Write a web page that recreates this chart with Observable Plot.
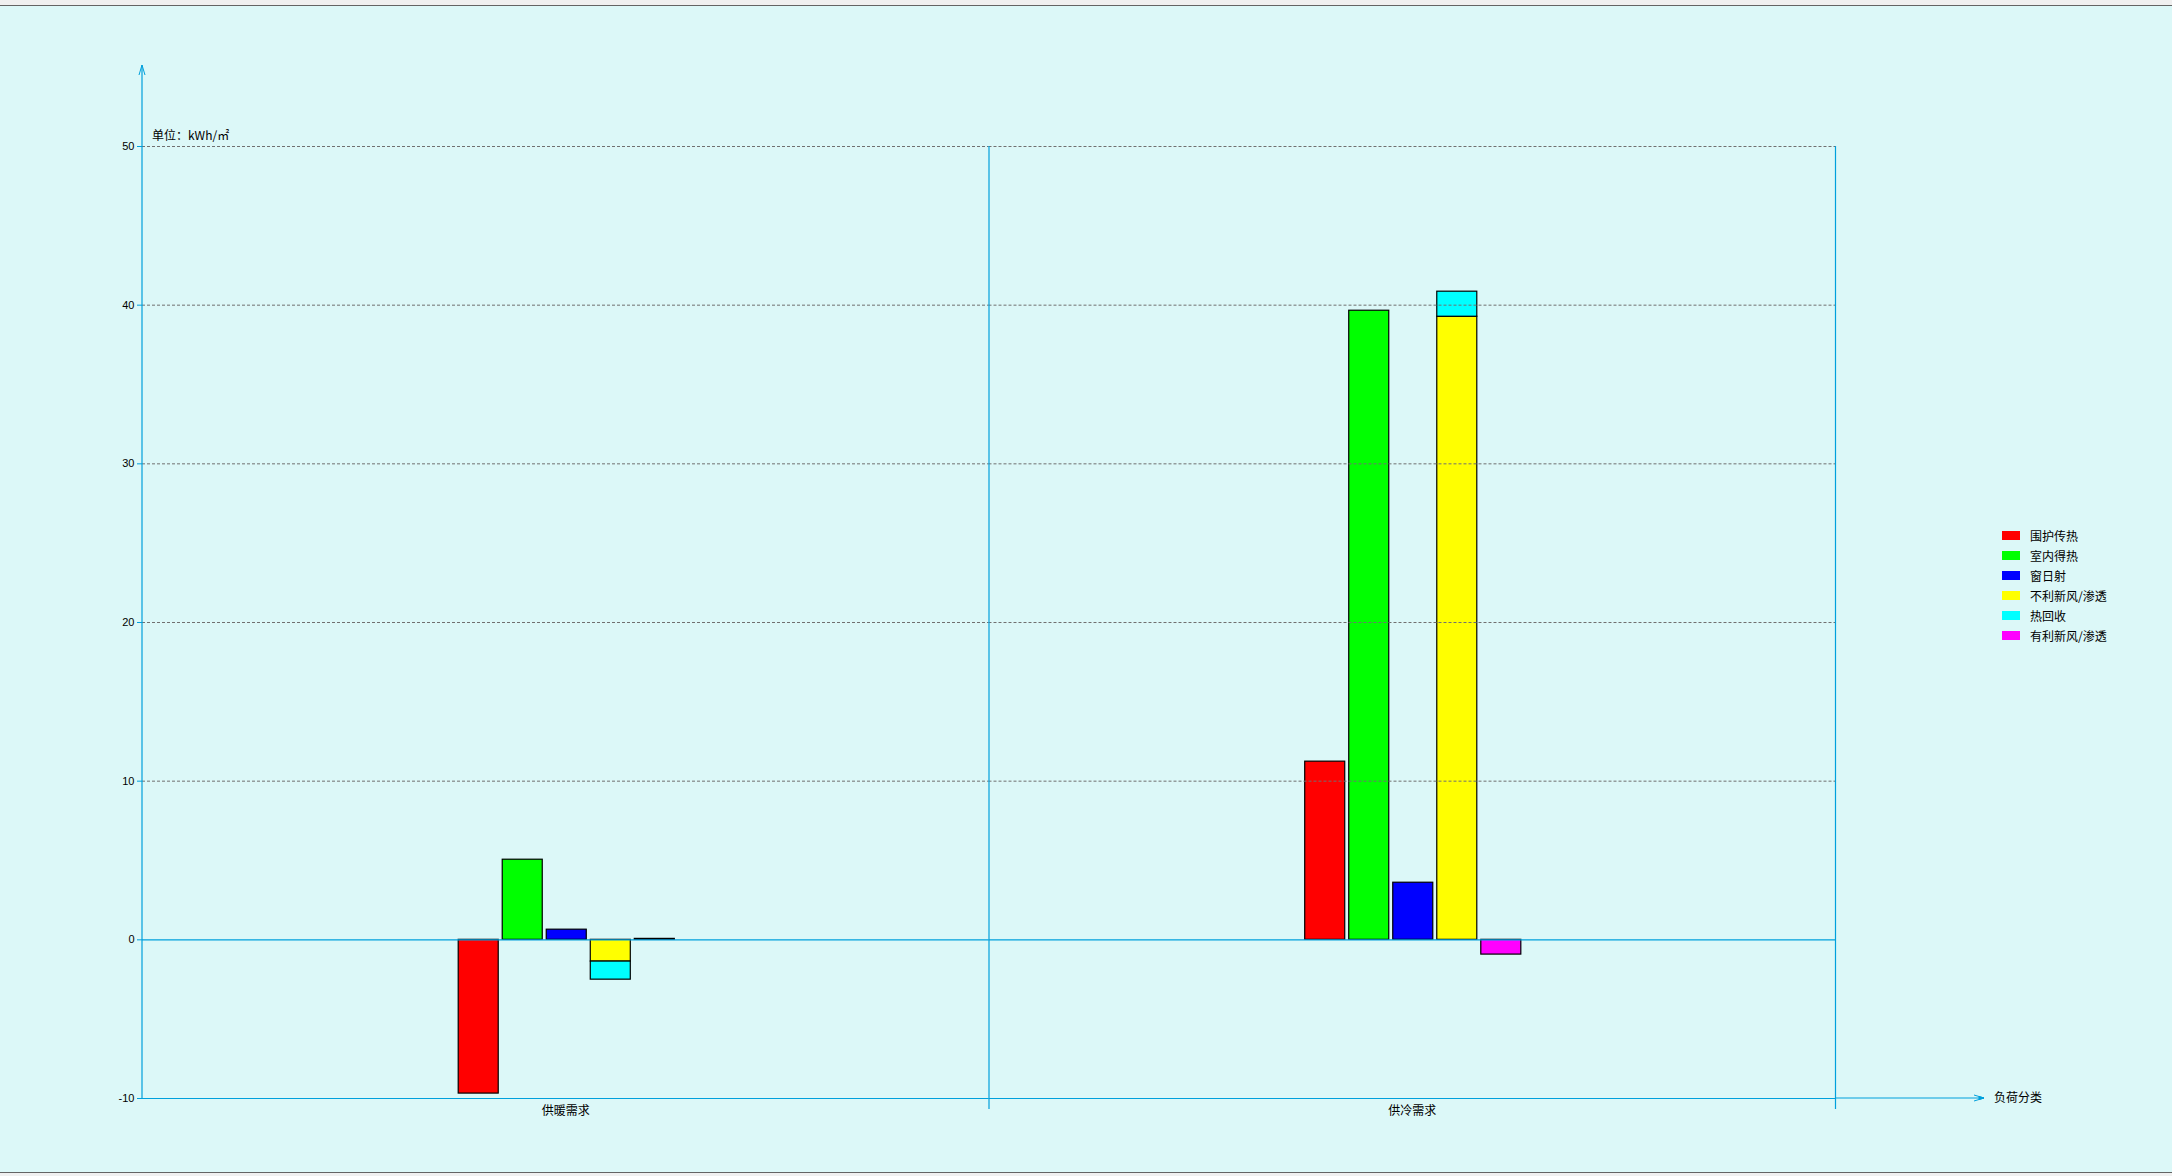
<!DOCTYPE html>
<html>
<head>
<meta charset="utf-8">
<script src="https://cdn.jsdelivr.net/npm/d3@7"></script>
<script src="https://cdn.jsdelivr.net/npm/@observablehq/plot@0.6"></script>
<style>
  html, body { margin: 0; padding: 0; background: #f0f0f0; }
  #wrap { position: relative; width: 2172px; height: 1176px; overflow: hidden; background: #f0f0f0; }
  #bg { position: absolute; left: 0; top: 5px; width: 2172px; height: 1168px; background: #dcf8f8;
        border-top: 1px solid #646464; border-bottom: 1px solid #646464; box-sizing: border-box; }
  #chart { position: absolute; left: 0; top: 0; }
  #chart svg { display: block; }
  g[aria-label^="y-axis"] text { font-family: "Liberation Sans", Arial, sans-serif; font-size: 11px; fill: #000; }
  g[aria-label^="y-axis"] line, g[aria-label^="y-axis"] path { stroke: #00a0dc; }
  g[aria-label^="fx-axis"] text { font-family: "Noto Sans CJK SC", sans-serif; font-size: 12px; fill: #000; }
  #legend { position: absolute; left: 2002px; top: 525px; font-family: "Noto Sans CJK SC", sans-serif; font-size: 12px; color: #000; }
  #legend .row { display: flex; align-items: center; height: 20px; }
  #legend .sw { width: 18px; height: 9px; margin-right: 10px; }
</style>
</head>
<body>
<div id="wrap">
  <div id="bg"></div>
  <div id="chart"></div>
  <div id="legend"></div>
</div>
<script>
// ---- data ----
const categories = ["供暖需求", "供冷需求"];
const seriesNames = ["围护传热", "室内得热", "窗日射", "不利新风/渗透", "热回收", "有利新风/渗透"];
const seriesColors = ["#ff0000", "#00ff00", "#0000ff", "#ffff00", "#00ffff", "#ff00ff"];
const seriesSlot = ["s1", "s2", "s3", "s4", "s4", "s5"];
const slots = ["s1", "s2", "s3", "s4", "s5"];
const heatingValues = [-9.69, 5.05, 0.64, -1.37, -1.14, 0.06];
const coolingValues = [11.23, 39.65, 3.60, 39.27, 1.58, -0.93];
const yTicks = [-10, 0, 10, 20, 30, 40, 50];
const gridValues = [10, 20, 30, 40, 50];
const unitLabel = "单位：kWh/㎡";
const xAxisLabel = "负荷分类";

const AXIS = "#00a0dc";
const valuesByCategory = [heatingValues, coolingValues];
const table = [];
categories.forEach((c, ci) => {
  seriesNames.forEach((s, si) => {
    table.push({cat: c, slot: seriesSlot[si], series: s, value: valuesByCategory[ci][si]});
  });
});

const W = 2172, H = 1176;
const mL = 142, mR = 337, mT = 146, mB = 78;

const plot = Plot.plot({
  width: W, height: H,
  marginLeft: mL, marginRight: mR, marginTop: mT, marginBottom: mB,
  style: {background: "transparent", fontFamily: "'Noto Sans CJK SC', sans-serif", fontSize: "12px", color: "#000", overflow: "visible"},
  fx: {domain: categories, padding: 0, round: false, axis: "bottom", tickSize: 0, tickPadding: 8, label: null},
  x: {domain: slots, paddingInner: 0.0909, paddingOuter: 7.16, align: 0.5016, round: false, axis: null},
  y: {domain: [-10, 50], ticks: yTicks, tickSize: 5, tickPadding: 3, label: null, tickFormat: d => String(d)},
  color: {domain: seriesNames, range: seriesColors},
  marks: [
    Plot.barY(table, {fx: "cat", x: "slot", y: "value", fill: "series", stroke: "#000", strokeWidth: 1.2}),
    Plot.ruleY(gridValues, {stroke: "#707070", strokeDasharray: "3,2"}),
    Plot.ruleY([0], {stroke: AXIS, strokeWidth: 1.2}),
    Plot.ruleY([-10], {stroke: AXIS, strokeWidth: 1.2}),
    Plot.frame({anchor: "right", stroke: AXIS, strokeWidth: 1.2, insetBottom: -10})
  ]
});
document.getElementById("chart").appendChild(plot);

// ---- axis furniture: y axis line with arrow, x axis extension with arrow, labels ----
const svg = d3.select(plot.tagName.toLowerCase() === "svg" ? plot : plot.querySelector("svg"));
const ys = plot.scale("y");
const y0 = ys.apply(-10);
const yTop = ys.apply(50);
const xRight = W - mR;
const g = svg.append("g").attr("text-anchor", "start");
g.append("line").attr("x1", mL).attr("x2", mL).attr("y1", yTop - 81).attr("y2", y0)
  .attr("stroke", AXIS).attr("stroke-width", 1.2);
g.append("path").attr("d", `M${mL - 3},${yTop - 71}L${mL},${yTop - 81}L${mL + 3},${yTop - 71}`)
  .attr("fill", "none").attr("stroke", AXIS).attr("stroke-width", 1);
g.append("line").attr("x1", xRight).attr("x2", xRight + 149).attr("y1", y0).attr("y2", y0)
  .attr("stroke", AXIS).attr("stroke-width", 1.2);
g.append("path").attr("d", `M${xRight + 139},${y0 - 3}L${xRight + 149},${y0}L${xRight + 139},${y0 + 3}`)
  .attr("fill", "none").attr("stroke", AXIS).attr("stroke-width", 1);
g.append("path").attr("d", `M${xRight + 144},${y0 - 1.5}L${xRight + 149},${y0}L${xRight + 144},${y0 + 1.5}Z`)
  .attr("fill", AXIS).attr("stroke", AXIS);
g.append("text").attr("x", xRight + 159).attr("y", y0).attr("dy", "0.35em").attr("text-anchor", "start")
  .attr("font-family", "'Noto Sans CJK SC', sans-serif").attr("font-size", 12).attr("fill", "#000")
  .text(xAxisLabel);
g.append("text").attr("x", mL + 10).attr("y", yTop - 6).attr("text-anchor", "start")
  .attr("font-family", "'Noto Sans CJK SC', sans-serif").attr("font-size", 12).attr("fill", "#000")
  .text(unitLabel);

// ---- legend ----
const legend = d3.select("#legend");
seriesNames.forEach((s, i) => {
  const row = legend.append("div").attr("class", "row");
  row.append("div").attr("class", "sw").style("background", seriesColors[i]);
  row.append("span").text(s);
});
</script>
</body>
</html>
